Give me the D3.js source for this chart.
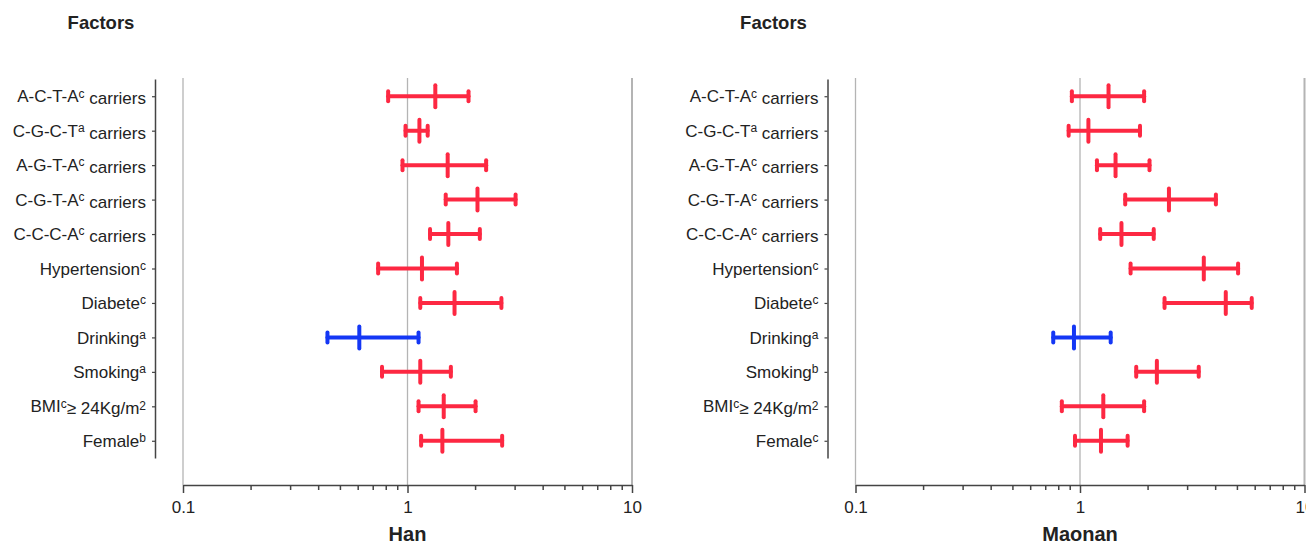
<!DOCTYPE html>
<html>
<head>
<meta charset="utf-8">
<script src="https://cdn.jsdelivr.net/npm/d3@7"></script>
<style>
  body { margin: 0; background: #fff; }
  text { font-family: "Liberation Sans", Arial, sans-serif; fill: #222; }
</style>
</head>
<body>
<svg width="1306" height="544"></svg>
<script>
// row labels: name + superscript + suffix (+ suffix superscript)
var factorNames = ["A-C-T-A", "C-G-C-T", "A-G-T-A", "C-G-T-A", "C-C-C-A", "Hypertension", "Diabete", "Drinking", "Smoking", "BMI", "Female"];
var factorSuffix = [" carriers", " carriers", " carriers", " carriers", " carriers", "", "", "", "", "\u2265 24Kg/m", ""];
var factorSuffixSup = ["", "", "", "", "", "", "", "", "", "2", ""];

var hanSup = ["c", "a", "c", "c", "c", "c", "c", "a", "a", "c", "b"];
var hanOR = [1.33, 1.13, 1.51, 2.05, 1.52, 1.16, 1.62, 0.61, 1.14, 1.45, 1.43];
var hanLow = [0.82, 0.98, 0.95, 1.48, 1.26, 0.74, 1.14, 0.44, 0.77, 1.12, 1.15];
var hanHigh = [1.87, 1.23, 2.24, 3.03, 2.10, 1.66, 2.62, 1.12, 1.56, 2.01, 2.64];

var maonanSup = ["c", "a", "c", "c", "c", "c", "c", "a", "b", "c", "c"];
var maonanOR = [1.34, 1.09, 1.44, 2.49, 1.53, 3.56, 4.46, 0.94, 2.20, 1.27, 1.24];
var maonanLow = [0.92, 0.89, 1.19, 1.59, 1.23, 1.68, 2.38, 0.76, 1.78, 0.83, 0.95];
var maonanHigh = [1.93, 1.85, 2.04, 4.03, 2.13, 5.06, 5.82, 1.37, 3.38, 1.93, 1.63];

var xTicks = [0.1, 0.2, 0.3, 0.4, 0.5, 0.6, 0.7, 0.8, 0.9, 1, 2, 3, 4, 5, 6, 7, 8, 9, 10];
var xLabels = [0.1, 1, 10];

var red = "#fd2842", blue = "#1437f5";

var svg = d3.select("svg");

function drawPanel(offset, title, sups, or, low, high) {
  var g = svg.append("g").attr("transform", "translate(" + offset + ",0)");

  var x = d3.scaleLog().domain([0.1, 10]).range([183, 632]);
  var y = d3.scalePoint().domain(d3.range(factorNames.length)).range([79, 458]).padding(0.5);

  // vertical grid lines
  g.selectAll(".grid")
    .data(xLabels)
    .enter().append("line")
    .attr("x1", function(d) { return x(d); })
    .attr("x2", function(d) { return x(d); })
    .attr("y1", 78)
    .attr("y2", 485)
    .attr("stroke", "#b4b4b4")
    .attr("stroke-width", function(d) { return d == 10 ? 2 : 1.3; });

  // x axis
  var xAxis = d3.axisBottom(x)
    .tickValues(xTicks)
    .tickSizeOuter(0)
    .tickFormat(function(d) { return xLabels.indexOf(d) >= 0 ? d3.format("")(d) : ""; });

  var ax = g.append("g")
    .attr("transform", "translate(0,485)")
    .call(xAxis);
  ax.select(".domain").attr("stroke", "#444").attr("stroke-width", 1.5);
  ax.selectAll(".tick line")
    .attr("stroke", "#444")
    .attr("stroke-width", 1.5)
    .attr("y2", function(d) { return xLabels.indexOf(d) >= 0 ? 8 : 5; });
  ax.selectAll(".tick text")
    .attr("y", 16)
    .attr("dy", "0.71em")
    .style("font-size", "17px")
    .style("font-family", "'Liberation Sans', Arial, sans-serif")
    .attr("fill", "#222");

  // y axis
  var yAxis = d3.axisLeft(y).tickSize(3).tickSizeOuter(0).tickFormat("");
  var ay = g.append("g")
    .attr("transform", "translate(155,0)")
    .call(yAxis);
  ay.select(".domain").attr("stroke", "#444").attr("stroke-width", 1.5);
  ay.selectAll(".tick line").attr("stroke", "#444").attr("stroke-width", 1.2);

  // row labels
  var labels = g.selectAll(".lab")
    .data(factorNames)
    .enter().append("text")
    .attr("x", 146)
    .attr("y", function(d, i) { return y(i); })
    .attr("dy", "0.36em")
    .attr("text-anchor", "end")
    .style("font-size", "17px");
  labels.append("tspan").text(function(d) { return d; });
  labels.append("tspan")
    .attr("dy", "-0.4em")
    .style("font-size", "12px")
    .text(function(d, i) { return sups[i]; });
  labels.append("tspan")
    .attr("dy", "0.4em")
    .text(function(d, i) { return factorSuffix[i]; });
  labels.append("tspan")
    .attr("dy", "-0.4em")
    .style("font-size", "12px")
    .text(function(d, i) { return factorSuffixSup[i]; });

  // error bars
  var bars = g.selectAll(".bar")
    .data(or)
    .enter().append("g")
    .attr("stroke", function(d) { return d < 1 ? blue : red; })
    .attr("stroke-width", 4)
    .attr("stroke-linecap", "round");
  bars.append("line")
    .attr("x1", function(d, i) { return x(low[i]); })
    .attr("x2", function(d, i) { return x(high[i]); })
    .attr("y1", function(d, i) { return y(i); })
    .attr("y2", function(d, i) { return y(i); });
  bars.append("line")
    .attr("x1", function(d, i) { return x(low[i]); })
    .attr("x2", function(d, i) { return x(low[i]); })
    .attr("y1", function(d, i) { return y(i) - 5; })
    .attr("y2", function(d, i) { return y(i) + 5; });
  bars.append("line")
    .attr("x1", function(d, i) { return x(high[i]); })
    .attr("x2", function(d, i) { return x(high[i]); })
    .attr("y1", function(d, i) { return y(i) - 5; })
    .attr("y2", function(d, i) { return y(i) + 5; });
  bars.append("line")
    .attr("x1", function(d) { return x(d); })
    .attr("x2", function(d) { return x(d); })
    .attr("y1", function(d, i) { return y(i) - 11; })
    .attr("y2", function(d, i) { return y(i) + 11; });

  // titles
  g.append("text")
    .attr("x", 101)
    .attr("y", 29)
    .attr("text-anchor", "middle")
    .style("font-size", "18.5px")
    .style("font-weight", "bold")
    .text("Factors");

  g.append("text")
    .attr("x", x(1))
    .attr("y", 541)
    .attr("text-anchor", "middle")
    .style("font-size", "20px")
    .style("font-weight", "bold")
    .text(title);
}

drawPanel(0, "Han", hanSup, hanOR, hanLow, hanHigh);
drawPanel(672.5, "Maonan", maonanSup, maonanOR, maonanLow, maonanHigh);
</script>
</body>
</html>
